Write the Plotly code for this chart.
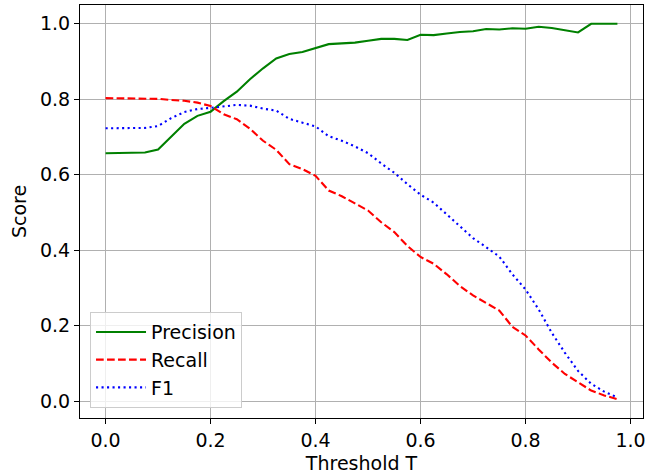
import plotly.graph_objects as go

thresholds = [round(i * 0.025, 3) for i in range(40)]

precision = [0.657, 0.657, 0.657, 0.659, 0.667, 0.700, 0.735, 0.756, 0.767, 0.795,
             0.820, 0.853, 0.882, 0.908, 0.920, 0.925, 0.936, 0.946, 0.948, 0.950,
             0.955, 0.960, 0.960, 0.957, 0.971, 0.970, 0.974, 0.978, 0.980, 0.986,
             0.985, 0.988, 0.987, 0.992, 0.989, 0.984, 0.977, 1.000, 1.000, 1.000]

recall = [0.803, 0.803, 0.803, 0.802, 0.801, 0.798, 0.796, 0.791, 0.782, 0.760,
          0.747, 0.722, 0.690, 0.666, 0.628, 0.615, 0.597, 0.558, 0.543, 0.524,
          0.505, 0.474, 0.448, 0.411, 0.382, 0.364, 0.336, 0.305, 0.280, 0.260,
          0.240, 0.197, 0.174, 0.137, 0.102, 0.072, 0.050, 0.028, 0.015, 0.005]

f1 = [0.723, 0.723, 0.723, 0.724, 0.729, 0.750, 0.766, 0.774, 0.777, 0.781,
      0.785, 0.783, 0.775, 0.770, 0.748, 0.738, 0.728, 0.702, 0.690, 0.675,
      0.657, 0.630, 0.605, 0.575, 0.547, 0.526, 0.495, 0.463, 0.432, 0.408,
      0.383, 0.336, 0.296, 0.243, 0.181, 0.128, 0.080, 0.046, 0.025, 0.010]

tick_vals = [0.0, 0.2, 0.4, 0.6, 0.8, 1.0]
tick_text = ["0.0", "0.2", "0.4", "0.6", "0.8", "1.0"]

font = dict(family="DejaVu Sans", size=19, color="black")

fig = go.Figure()
fig.add_trace(go.Scatter(x=thresholds, y=precision, mode="lines", name="Precision",
                         line=dict(color="green", width=2.1)))
fig.add_trace(go.Scatter(x=thresholds, y=recall, mode="lines", name="Recall",
                         line=dict(color="red", width=2.1, dash="7.7px,3.3px")))
fig.add_trace(go.Scatter(x=thresholds, y=f1, mode="lines", name="F1",
                         line=dict(color="blue", width=2.1, dash="2.1px,3.4px")))

axis_common = dict(
    showgrid=True, gridcolor="#b0b0b0", gridwidth=1,
    showline=True, linecolor="black", linewidth=1, mirror=True,
    ticks="outside", ticklen=5, tickwidth=1, tickcolor="black",
    zeroline=False, tickfont=font, automargin=False,
    ticklabeloverflow="allow",
    tickvals=tick_vals, ticktext=tick_text,
)

fig.update_layout(
    width=645, height=475,
    margin=dict(l=80, r=2, t=5, b=57, autoexpand=False),
    paper_bgcolor="white", plot_bgcolor="white",
    font=font,
    showlegend=True,
    legend=dict(x=0.0178, y=0.024, xanchor="left", yanchor="bottom",
                bgcolor="rgba(255,255,255,0.8)", bordercolor="#cccccc", borderwidth=1,
                font=font, itemwidth=50),
    xaxis=dict(range=[-0.04875, 1.02375],
               title=dict(text="Threshold T", font=font, standoff=6), **axis_common),
    yaxis=dict(range=[-0.04475, 1.04975],
               title=dict(text="Score", font=font, standoff=8), **axis_common),
)

fig.write_html("out.html",
               config={"displayModeBar": False},
               post_script="document.body.style.margin='0';document.body.style.overflow='hidden';")
